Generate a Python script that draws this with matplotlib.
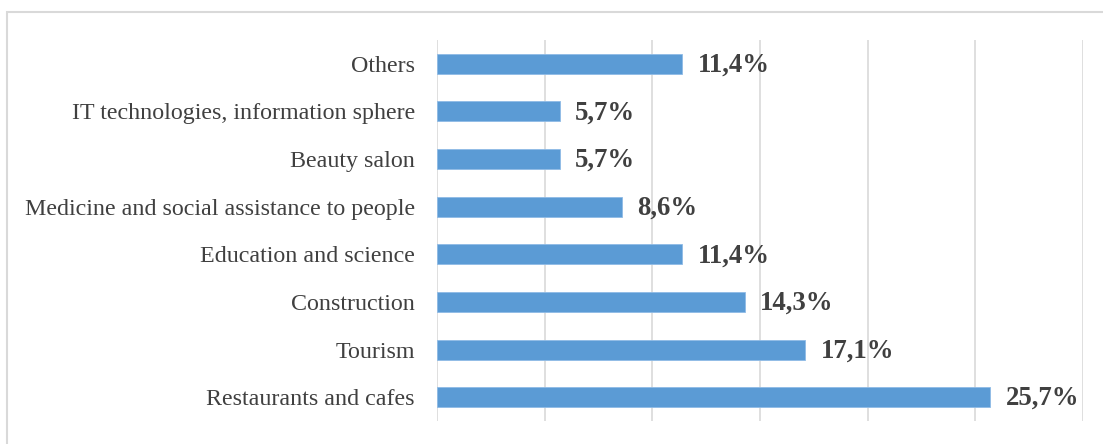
import matplotlib.pyplot as plt
from matplotlib.patches import Rectangle

categories = ["Restaurants and cafes", "Tourism", "Construction",
              "Education and science", "Medicine and social assistance to people",
              "Beauty salon", "IT technologies, information sphere", "Others"]
shares = [25.7, 17.1, 14.3, 11.4, 8.6, 5.7, 5.7, 11.4]

plt.rcParams['font.family'] = ['Liberation Serif', 'DejaVu Serif']

fig = plt.figure(figsize=(11.03, 4.44), dpi=100)
# outer chart frame, cut off at right and bottom
fig.patches.append(Rectangle((7 / 1103, -0.1), 1.2, 1.1 - 12 / 444,
                             transform=fig.transFigure, fill=False,
                             edgecolor='#d9d9d9', linewidth=1.5))

ax = fig.add_axes([437 / 1103, 23 / 444, 646 / 1103, 381 / 444])
pos = range(len(categories))
ax.barh(pos, shares, height=0.42, color='#5b9bd5', edgecolor='#8fbbe6',
        linewidth=0.6, zorder=3)

for y, v in zip(pos, shares):
    ax.annotate(f"{v:.1f}".replace('.', ',') + '%', (v, y),
                xytext=(11, -1), textcoords='offset points',
                ha='left', va='center', fontsize=19.3, fontweight='bold',
                color='#404040')

ax.set_xlim(0, 30)
ax.set_ylim(-0.5, len(categories) - 0.5)
ax.set_xticks([0, 5, 10, 15, 20, 25, 30])
ax.set_xticklabels([])
ax.set_yticks(list(pos))
ax.set_yticklabels(categories, fontsize=17.3, color='#404040')
ax.tick_params(axis='both', length=0)
ax.tick_params(axis='y', pad=16)
ax.grid(axis='x', color='#d9d9d9', linewidth=1.2, zorder=0)
for s in ax.spines.values():
    s.set_visible(False)

fig.savefig("out.png", dpi=100)
